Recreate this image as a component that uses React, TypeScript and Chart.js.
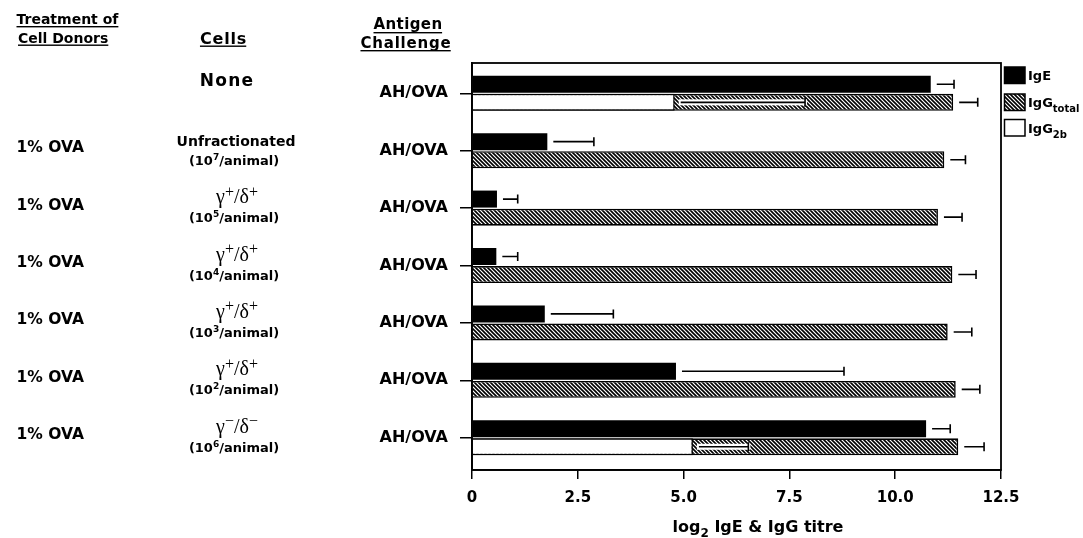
import React, { useEffect, useRef } from 'react';
import { Chart, registerables } from 'chart.js';

Chart.register(...registerables);

// ---------------- data ----------------
const rowIndex = [0, 1, 2, 3, 4, 5, 6];
const donorTreatment = ['', '1% OVA', '1% OVA', '1% OVA', '1% OVA', '1% OVA', '1% OVA'];
const cellTypes = ['None', 'Unfractionated', 'γ^+/δ^+', 'γ^+/δ^+', 'γ^+/δ^+', 'γ^+/δ^+', 'γ^−/δ^−'];
const cellDoses = ['', '(10^7/animal)', '(10^5/animal)', '(10^4/animal)', '(10^3/animal)', '(10^2/animal)', '(10^6/animal)'];
const antigenChallenge = ['AH/OVA', 'AH/OVA', 'AH/OVA', 'AH/OVA', 'AH/OVA', 'AH/OVA', 'AH/OVA'];

const ige = [10.84, 1.78, 0.59, 0.575, 1.72, 4.82, 10.73];
const igeUpper = [11.39, 2.88, 1.08, 1.08, 3.34, 8.79, 11.3];
const iggTotal = [11.37, 11.16, 11.01, 11.35, 11.24, 11.43, 11.49];
const iggTotalUpper = [11.95, 11.66, 11.58, 11.91, 11.81, 12.0, 12.1];
const igg2b = [4.79, null, null, null, null, null, 5.22];
const igg2bUpper = [7.87, null, null, null, null, null, 6.53];

const xTickLabels: Record<string, string> = { '0': '0', '2.5': '2.5', '5': '5.0', '7.5': '7.5', '10': '10.0', '12.5': '12.5' };
const headerTreatment = ['Treatment of', 'Cell Donors'];
const headerCells = 'Cells';
const headerAntigen = ['Antigen', 'Challenge'];
const legendLabels = ['IgE', 'IgG_{total}', 'IgG_{2b}'];
const xTitle = 'log_2 IgE & IgG titre';

const SANS = '"DejaVu Sans"';
const SERIF = '"Liberation Serif"';

// ---------------- helpers ----------------
type Seg = { t: string; kind: 'n' | 'sup' | 'sub' };
function parseRich(s: string): Seg[] {
  const out: Seg[] = [];
  let buf = '';
  for (let i = 0; i < s.length; i++) {
    const c = s[i];
    if ((c === '^' || c === '_') && i + 1 < s.length) {
      if (buf) { out.push({ t: buf, kind: 'n' }); buf = ''; }
      let t: string;
      if (s[i + 1] === '{') {
        const j = s.indexOf('}', i + 2);
        t = s.slice(i + 2, j);
        i = j;
      } else {
        t = s[i + 1];
        i++;
      }
      out.push({ t, kind: c === '^' ? 'sup' : 'sub' });
    } else buf += c;
  }
  if (buf) out.push({ t: buf, kind: 'n' });
  return out;
}

interface RichFont { family: string; weight: string; size: number; small: number; supShift: number; subShift: number; spacing?: number }

function drawRich(ctx: CanvasRenderingContext2D, s: string, x: number, y: number, align: 'left' | 'center' | 'right', f: RichFont) {
  const segs = parseRich(s);
  const fontStr = (sz: number) => `${f.weight} ${sz}px ${f.family}`;
  (ctx as any).letterSpacing = `${f.spacing || 0}px`;
  const widths = segs.map((seg) => {
    ctx.font = fontStr(seg.kind === 'n' ? f.size : f.small);
    return ctx.measureText(seg.t).width;
  });
  const total = widths.reduce((a, b) => a + b, 0);
  const start = align === 'center' ? x - total / 2 : align === 'right' ? x - total : x;
  let cx = start;
  ctx.textAlign = 'left';
  ctx.textBaseline = 'alphabetic';
  segs.forEach((seg, k) => {
    ctx.font = fontStr(seg.kind === 'n' ? f.size : f.small);
    const dy = seg.kind === 'sup' ? -f.supShift : seg.kind === 'sub' ? f.subShift : 0;
    ctx.fillText(seg.t, cx, y + dy);
    cx += widths[k];
  });
  (ctx as any).letterSpacing = '0px';
  return { left: start, width: total - (f.spacing || 0) };
}

function makeHatch(): CanvasPattern | string {
  const c = document.createElement('canvas');
  c.width = 4;
  c.height = 4;
  const g = c.getContext('2d');
  if (!g) return '#888';
  g.fillStyle = '#fff';
  g.fillRect(0, 0, 4, 4);
  g.strokeStyle = '#000';
  g.lineWidth = 1.6;
  g.beginPath();
  g.moveTo(-1, -1); g.lineTo(5, 5);
  g.moveTo(-1, 3); g.lineTo(1, 5);
  g.moveTo(3, -1); g.lineTo(5, 1);
  g.stroke();
  return g.createPattern(c, 'repeat') || '#888';
}

// ---------------- component ----------------
export default function App() {
  const ref = useRef<HTMLCanvasElement>(null);

  useEffect(() => {
    const canvas = ref.current;
    if (!canvas) return;
    const hatch = makeHatch();
    const errorSets = [igeUpper, igg2bUpper, iggTotalUpper];

    const errorBars = {
      id: 'errorBars',
      afterDatasetsDraw(chart: any) {
        const ctx: CanvasRenderingContext2D = chart.ctx;
        const xs = chart.scales.x;
        ctx.save();
        chart.data.datasets.forEach((ds: any, di: number) => {
          const uppers = errorSets[di];
          const meta = chart.getDatasetMeta(di);
          meta.data.forEach((bar: any, i: number) => {
            const u = uppers[i];
            if (u == null || ds.data[i] == null) return;
            const x0 = bar.x + 6;
            const x1 = xs.getPixelForValue(u);
            const yy = bar.y;
            if (di === 1) {
              ctx.fillStyle = '#fff';
              ctx.fillRect(x0 - 2, yy - 3, x1 - x0 + 4, 6);
            }
            ctx.strokeStyle = '#000';
            ctx.lineWidth = 1.6;
            ctx.beginPath();
            ctx.moveTo(x0, yy);
            ctx.lineTo(x1, yy);
            ctx.moveTo(x1, yy - 4.5);
            ctx.lineTo(x1, yy + 4.5);
            ctx.stroke();
          });
        });
        ctx.restore();
      },
    };

    const annotations = {
      id: 'annotations',
      afterDraw(chart: any) {
        const ctx: CanvasRenderingContext2D = chart.ctx;
        const { left, right, top, bottom } = chart.chartArea;
        const ys = chart.scales.y;
        ctx.save();
        ctx.fillStyle = '#000';
        ctx.strokeStyle = '#000';
        // frame
        ctx.lineWidth = 1.8;
        ctx.strokeRect(left, top, right - left, bottom - top);

        const bold = (size: number, spacing = 0): RichFont => ({ family: SANS, weight: 'bold', size, small: Math.round(size * 0.68), supShift: size * 0.42, subShift: size * 0.32, spacing });
        const underline = (r: { left: number; width: number }, y: number) => ctx.fillRect(r.left, y, r.width, 1.4);

        // headers
        let r = drawRich(ctx, headerTreatment[0], 16.5, 24.2, 'left', bold(14));
        underline(r, 26);
        r = drawRich(ctx, headerTreatment[1], 18, 42.5, 'left', bold(14));
        underline(r, 44.5);
        r = drawRich(ctx, headerCells, 223.5, 43.5, 'center', bold(16, 0.8));
        underline(r, 45.5);
        r = drawRich(ctx, headerAntigen[0], 408, 29, 'center', bold(15, 0.4));
        underline(r, 32);
        r = drawRich(ctx, headerAntigen[1], 406, 47.5, 'center', bold(15, 0.8));
        underline(r, 50);

        // rows
        rowIndex.forEach((i) => {
          const py = ys.getPixelForValue(i);
          if (donorTreatment[i]) drawRich(ctx, donorTreatment[i], 16.5, py + 1.5, 'left', bold(15.5));
          const cell = cellTypes[i];
          if (!cellDoses[i]) {
            drawRich(ctx, cell, 227, py - 7, 'center', bold(17, 1.2));
          } else {
            if (cell.includes('γ')) {
              drawRich(ctx, cell, 237, py - 5, 'center', { family: SERIF, weight: 'normal', size: 20, small: 16, supShift: 6.5, subShift: 4 });
            } else {
              drawRich(ctx, cell, 236, py - 5, 'center', bold(14));
            }
            drawRich(ctx, cellDoses[i], 234, py + 14, 'center', { family: SANS, weight: 'bold', size: 13, small: 9, supShift: 5, subShift: 3 });
          }
        });

        // legend
        const lx = 1004.5;
        const boxes = [
          { y: 67, fill: '#000' as any },
          { y: 94, fill: hatch as any },
          { y: 119.5, fill: '#fff' as any },
        ];
        boxes.forEach((b, k) => {
          ctx.fillStyle = b.fill;
          ctx.fillRect(lx, b.y, 20.5, 16.5);
          ctx.lineWidth = 1.5;
          ctx.strokeStyle = '#000';
          ctx.strokeRect(lx, b.y, 20.5, 16.5);
          ctx.fillStyle = '#000';
          drawRich(ctx, legendLabels[k], 1028, b.y + 13.2, 'left', { family: SANS, weight: 'bold', size: 13, small: 10, supShift: 5, subShift: 5 });
        });

        // x title
        drawRich(ctx, xTitle, 758, 531.5, 'center', { family: SANS, weight: 'bold', size: 16, small: 12, supShift: 6, subShift: 5 });
        ctx.restore();
      },
    };

    const chart = new Chart(canvas, {
      type: 'bar',
      data: {
        labels: rowIndex,
        datasets: [
          { label: 'IgE', data: ige, stack: 'e', order: 0, backgroundColor: '#000', borderColor: '#000', borderWidth: 0 } as any,
          { label: 'IgG2b', data: igg2b, stack: 'g', order: 1, backgroundColor: '#fff', borderColor: '#000', borderWidth: 1.5 } as any,
          { label: 'IgGtotal', data: iggTotal, stack: 'g', order: 2, backgroundColor: hatch, borderColor: '#000', borderWidth: 1.6 } as any,
        ],
      },
      options: {
        responsive: false,
        animation: false,
        indexAxis: 'y',
        categoryPercentage: 0.63,
        barPercentage: 0.94,
        layout: { padding: { left: 0, top: 63, right: 82, bottom: 0 } },
        plugins: {
          legend: { display: false },
          tooltip: { enabled: false },
          title: { display: false },
        },
        scales: {
          x: {
            type: 'linear',
            min: 0,
            max: 12.5,
            stacked: false,
            offset: false,
            afterFit: (s: any) => { s.height = 68; },
            ticks: {
              stepSize: 2.5,
              autoSkip: false,
              maxRotation: 0,
              padding: 10,
              color: '#000',
              font: { family: SANS, weight: 'bold', size: 15 },
              callback: (v: any) => xTickLabels[String(v)] ?? '',
            },
            grid: { offset: false, drawOnChartArea: false, drawTicks: true, tickLength: 9, color: '#000', lineWidth: 1.5 },
            border: { display: true, color: '#000', width: 1.8 },
          },
          y: {
            type: 'linear',
            reverse: true,
            offset: false,
            min: -0.528,
            max: 6.562,
            afterFit: (s: any) => { s.width = 472; },
            ticks: {
              stepSize: 1,
              includeBounds: false,
              autoSkip: false,
              padding: 12,
              color: '#000',
              font: { family: SANS, weight: 'bold', size: 16 },
              callback: (v: any) => antigenChallenge[v] ?? '',
            },
            grid: { offset: false, drawOnChartArea: false, drawTicks: true, tickLength: 12, color: '#000', lineWidth: 1.5 },
            border: { display: true, color: '#000', width: 1.8 },
          },
        },
      } as any,
      plugins: [errorBars, annotations],
    });

    return () => chart.destroy();
  }, []);

  return (
    <div style={{ position: 'fixed', left: 0, top: 0, width: 1083, height: 538, background: '#fff' }}>
      <canvas ref={ref} width={1083} height={538} style={{ display: 'block' }} />
    </div>
  );
}
